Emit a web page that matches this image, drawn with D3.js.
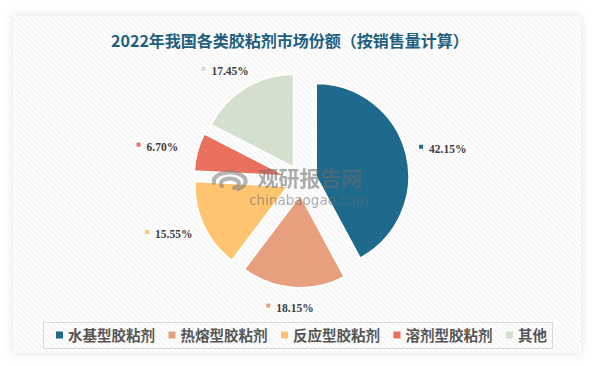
<!DOCTYPE html>
<html><head><meta charset="utf-8">
<script src="https://cdn.jsdelivr.net/npm/d3@7/dist/d3.min.js"></script>
<style>html,body{margin:0;padding:0;background:#fff;}svg{display:block;}</style>
</head><body>
<svg id="chart" width="594" height="366"></svg>
<script>
const title = "2022年我国各类胶粘剂市场份额（按销售量计算）";
const categories = ["水基型胶粘剂", "热熔型胶粘剂", "反应型胶粘剂", "溶剂型胶粘剂", "其他"];
const values = [42.15, 18.15, 15.55, 6.70, 17.45];
const colors = ["#1D6A8D", "#E89F7D", "#FEC46F", "#E9705E", "#D2E0CD"];

const W = 594, H = 366;
const svg = d3.select("#chart");
const defs = svg.append("defs");
const pat = defs.append("pattern").attr("id", "stripes").attr("patternUnits", "userSpaceOnUse")
  .attr("width", 4).attr("height", 4).attr("patternTransform", "rotate(-45)");
pat.append("rect").attr("width", 4).attr("height", 4).attr("fill", "#fdfdfd");
pat.append("line").attr("x1", 0).attr("y1", 0).attr("x2", 0).attr("y2", 4)
  .attr("stroke", "#ececec").attr("stroke-width", 1.2);
const f = defs.append("filter").attr("id", "shadow").attr("x", "-10%").attr("y", "-10%").attr("width", "120%").attr("height", "120%");
f.append("feDropShadow").attr("dx", 0).attr("dy", 0).attr("stdDeviation", 5)
  .attr("flood-color", "#000").attr("flood-opacity", 0.12);

// panel
svg.append("rect").attr("x", 13).attr("y", 16).attr("width", 568).attr("height", 337)
  .attr("fill", "#fff").attr("filter", "url(#shadow)");
svg.append("rect").attr("x", 13).attr("y", 16).attr("width", 568).attr("height", 337)
  .attr("fill", "url(#stripes)");

// title
svg.append("text").attr("x", 290).attr("y", 47).attr("text-anchor", "middle")
  .attr("font-family", "'Noto Sans CJK SC', sans-serif").attr("font-weight", "bold")
  .attr("font-size", 16).attr("fill", "#1F5F7E").text(title);

// pie
const cx = 301.5, cy = 180, R = 93, explode = 15;
const pie = d3.pie().sort(null).value(d => d)(values);
const arc = d3.arc().innerRadius(0).outerRadius(R);
const g = svg.append("g").attr("transform", `translate(${cx},${cy})`);
g.selectAll("path").data(pie).join("path")
  .attr("d", arc)
  .attr("transform", d => {
    const a = (d.startAngle + d.endAngle) / 2;
    return `translate(${explode * Math.sin(a)},${-explode * Math.cos(a)})`;
  })
  .attr("fill", (d, i) => colors[i])
  .attr("stroke", "#fff").attr("stroke-width", 1.8).attr("stroke-linejoin", "round");

// watermark
const wm = svg.append("g").attr("opacity", 0.55);
wm.append("text").attr("x", 310).attr("y", 186).attr("text-anchor", "middle")
  .attr("font-family", "'Noto Sans CJK SC', sans-serif").attr("font-weight", "bold")
  .attr("font-size", 21).attr("fill", "#6b6b6b").text("观研报告网");
wm.append("text").attr("x", 309).attr("y", 205).attr("text-anchor", "middle")
  .attr("font-family", "'DejaVu Sans', sans-serif")
  .attr("font-size", 13.5).attr("fill", "#6b6b6b").text("chinabaogao.com");
wm.append("path").attr("d", "M214,183 a16,9 0 1,1 24,6 M222,186 a9,5 0 1,1 12,2")
  .attr("fill", "none").attr("stroke", "#7a7a7a").attr("stroke-width", 4).attr("stroke-linecap", "round");

// labels
const LR = 122, bw = 48, bh = 12;
const lab = svg.append("g");
pie.forEach((d, i) => {
  const a = (d.startAngle + d.endAngle) / 2;
  const bx = cx + LR * Math.sin(a) + bw / 2 * Math.sin(a);
  const by = cy - LR * Math.cos(a) - bh / 2 * Math.cos(a);
  lab.append("rect").attr("x", bx - 24).attr("y", by - 4).attr("width", 4).attr("height", 4)
    .attr("fill", colors[i]);
  lab.append("text").attr("x", bx - 14).attr("y", by + 4)
    .attr("font-family", "'Liberation Serif', serif").attr("font-weight", "bold")
    .attr("font-size", 11.5).attr("fill", "#404040")
    .text(d3.format(".2f")(values[i]) + "%");
});

// legend
svg.append("rect").attr("x", 43.5).attr("y", 322.5).attr("width", 509).attr("height", 26)
  .attr("fill", "none").attr("stroke", "#d9d9d9").attr("stroke-width", 1);
const lx = d3.scalePoint().domain(categories).range([56, 506]);
const lg = svg.append("g").selectAll("g").data(categories).join("g")
  .attr("transform", d => `translate(${lx(d)},335)`);
lg.append("rect").attr("x", 0).attr("y", -3.5).attr("width", 7).attr("height", 7)
  .attr("fill", (d, i) => colors[i]);
lg.append("text").attr("x", 12).attr("y", 5.5)
  .attr("font-family", "'Noto Sans CJK SC', sans-serif").attr("font-weight", "bold")
  .attr("font-size", 14.5).attr("fill", "#555").text(d => d);
</script>
</body></html>
